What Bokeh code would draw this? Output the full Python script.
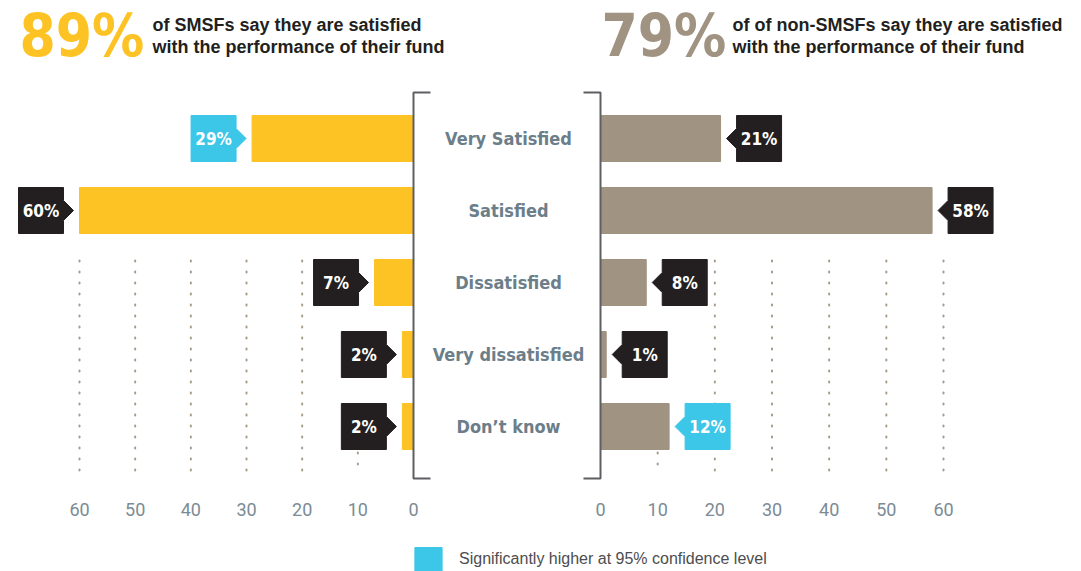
from bokeh.plotting import figure
from bokeh.models import Range1d, Label, Legend, LegendItem
from bokeh.core.properties import value
from bokeh.embed import file_html
from bokeh.resources import INLINE

# ---------------- data ----------------
categories = ["Very Satisfied", "Satisfied", "Dissatisfied", "Very dissatisfied", "Don\u2019t know"]
smsf = [29, 60, 7, 2, 2]
non_smsf = [21, 58, 8, 1, 12]
smsf_significant = [True, False, False, False, False]
non_significant = [False, False, False, False, True]
ticks = [0, 10, 20, 30, 40, 50, 60]
tick_labels = ["0", "10", "20", "30", "40", "50", "60"]
smsf_total = 89
non_total = 79
smsf_head = ["of SMSFs say they are satisfied", "with the performance of their fund"]
non_head = ["of of non-SMSFs say they are satisfied", "with the performance of their fund"]
legend_label = "Significantly higher at 95% confidence level"

# ---------------- style / layout ----------------
YELLOW = "#FDC324"
TAUPE = "#A09382"
CYAN = "#3CC6E8"
BLACK = "#231F20"
SLATE = "#6B7E89"
TICKC = "#7C8B95"
DOTC = "#A89A88"
COND = value("DejaVu Sans Condensed")

W, H = 1081, 571
L0, L60 = 413, 79      # px of SMSF axis 0 and 60
R0, R60 = 600, 943     # px of non-SMSF axis 0 and 60
LP = (L0 - L60) / 60.0
RP = (R60 - R0) / 60.0
Y0, YP = 138, 72.0     # px of first category centre, px per category


def ly(px):
    return (px - Y0) / YP


BH = 46 / YP           # bar height in category units
GAP, ARW, BOXW, AH = 6, 10, 45, 10

p = figure(width=W, height=H,
           x_range=Range1d(L0 / LP, (L0 - W) / LP),
           y_range=Range1d((H - Y0) / YP, -Y0 / YP),
           output_backend="svg", toolbar_location=None,
           x_axis_type=None, y_axis_type=None, min_border=0,
           outline_line_color=None, background_fill_color="white",
           border_fill_color="white")
p.extra_x_ranges = {"non": Range1d(-R0 / RP, (W - R0) / RP)}
p.grid.visible = False

idx = list(range(len(categories)))

# dotted vertical grid lines (the 10-line is hidden behind the labels except at the foot)
gl = ticks[1:]
g_top = [ly(452) if t == 10 else ly(260) for t in gl]
g_bot = [ly(470)] * len(gl)
p.segment(x0=gl, x1=gl, y0=g_top, y1=g_bot,
          line_color=DOTC, line_width=2, line_dash="1 10", line_cap="round")
p.segment(x0=gl, x1=gl, y0=g_top, y1=g_bot,
          line_color=DOTC, line_width=2, line_dash="1 10", line_cap="round",
          x_range_name="non")

# bars
p.hbar(y=idx, left=0, right=smsf, height=BH, color=YELLOW)
p.hbar(y=idx, left=0, right=non_smsf, height=BH, color=TAUPE, x_range_name="non")


def box_sources(vals, sig, ppu):
    out = {True: dict(xs=[], ys=[]), False: dict(xs=[], ys=[])}
    tx, tt = [], []
    for i, (v, s) in enumerate(zip(vals, sig)):
        tip = v + GAP / ppu
        base = v + (GAP + ARW) / ppu
        far = v + (GAP + ARW + BOXW) / ppu
        top, bot, a = i - BH / 2, i + BH / 2, AH / YP
        out[s]["xs"].append([far, base, base, tip, base, base, far])
        out[s]["ys"].append([top, top, i - a, i, i + a, bot, bot])
        tx.append(v + (GAP + ARW + BOXW / 2) / ppu)
        tt.append(f"{v}%")
    return out, tx, tt


lb, ltx, ltt = box_sources(smsf, smsf_significant, LP)
rb, rtx, rtt = box_sources(non_smsf, non_significant, RP)

p.patches(xs=lb[False]["xs"], ys=lb[False]["ys"], fill_color=BLACK, line_color=BLACK)
cyan_left = p.patches(xs=lb[True]["xs"], ys=lb[True]["ys"], fill_color=CYAN, line_color=CYAN)
p.patches(xs=rb[False]["xs"], ys=rb[False]["ys"], fill_color=BLACK, line_color=BLACK,
          x_range_name="non")
p.patches(xs=rb[True]["xs"], ys=rb[True]["ys"], fill_color=CYAN, line_color=CYAN,
          x_range_name="non")

p.text(x=ltx, y=idx, text=ltt, text_color="white", text_font=COND,
       text_font_style="bold", text_font_size="17px", text_align="center",
       text_baseline="middle")
p.text(x=rtx, y=idx, text=rtt, text_color="white", text_font=COND,
       text_font_style="bold", text_font_size="17px", text_align="center",
       text_baseline="middle", x_range_name="non")

# category labels in the centre
cx = (L0 - 508) / LP
p.text(x=[cx] * len(categories), y=idx, text=categories, text_color=SLATE,
       text_font=COND, text_font_style="bold", text_font_size="18px",
       text_align="center", text_baseline="middle")

# brackets
S = 17
top_b, bot_b = ly(92), ly(478)
p.line(x=[-S / LP, 0, 0, -S / LP], y=[top_b, top_b, bot_b, bot_b],
       line_color="#5E5F62", line_width=2)
p.line(x=[-S / RP, 0, 0, -S / RP], y=[top_b, top_b, bot_b, bot_b],
       line_color="#5E5F62", line_width=2, x_range_name="non")

# tick labels
p.text(x=ticks, y=[ly(509)] * len(ticks), text=tick_labels, text_color=TICKC,
       text_font=value("Roboto"), text_font_size="18px", text_align="center",
       text_baseline="middle")
p.text(x=ticks, y=[ly(509)] * len(ticks), text=tick_labels, text_color=TICKC,
       text_font=value("Roboto"), text_font_size="18px", text_align="center",
       text_baseline="middle", x_range_name="non")

# headers
p.add_layout(Label(x=19, y=H - 35, x_units="screen", y_units="screen",
                   text=f"{smsf_total}%", text_color=YELLOW, text_font="DejaVu Sans Condensed",
                   text_font_style="bold", text_font_size="58px",
                   text_baseline="middle"))
p.add_layout(Label(x=601, y=H - 35, x_units="screen", y_units="screen",
                   text=f"{non_total}%", text_color=TAUPE, text_font="DejaVu Sans Condensed",
                   text_font_style="bold", text_font_size="58px",
                   text_baseline="middle"))
for k, line in enumerate(smsf_head):
    p.add_layout(Label(x=152, y=H - 24 - 22 * k, x_units="screen", y_units="screen",
                       text=line, text_color=BLACK, text_font="Liberation Sans",
                       text_font_style="bold", text_font_size="18px",
                       text_baseline="middle"))
for k, line in enumerate(non_head):
    p.add_layout(Label(x=732, y=H - 24 - 22 * k, x_units="screen", y_units="screen",
                       text=line, text_color=BLACK, text_font="Liberation Sans",
                       text_font_style="bold", text_font_size="18px",
                       text_baseline="middle"))

# legend
leg = Legend(items=[LegendItem(label=legend_label, renderers=[cyan_left])],
             location=(411, -3), padding=0, margin=0, spacing=0,
             glyph_width=34, glyph_height=30, label_height=30,
             label_standoff=14, label_text_font="Liberation Sans",
             label_text_font_size="16px", label_text_color="#4D4D4F",
             border_line_color=None, background_fill_alpha=0)
p.add_layout(leg)

open("out.html", "w").write(file_html(p, INLINE))
